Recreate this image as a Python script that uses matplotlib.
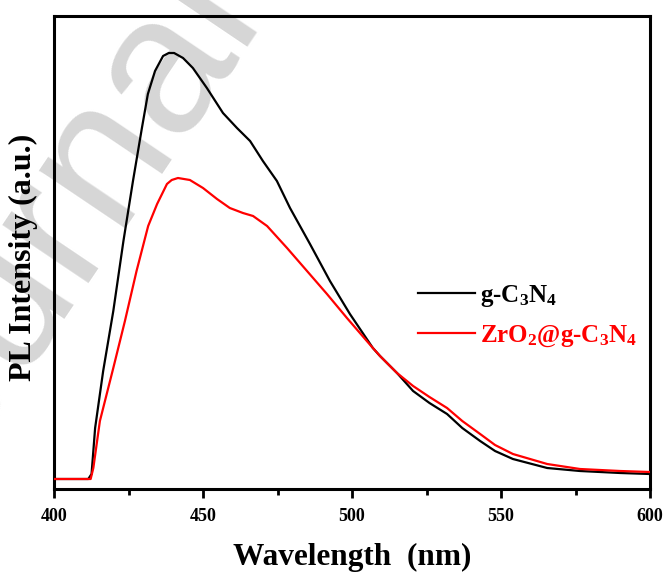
import matplotlib
matplotlib.use("Agg")
import matplotlib.pyplot as plt
from matplotlib.lines import Line2D

# PL spectra (intensity in arbitrary units)
wl_gcn = [400, 411.5, 412.6, 413.8, 416.5, 419.9, 423.3, 426.5, 429.5, 431.5,
          433.9, 436.6, 438.5, 440.3, 443.3, 446.6, 451.3, 456.7, 461.4, 465.8,
          470.1, 474.8, 479.2, 485.9, 492.6, 499.3, 507, 509.4, 515.1, 520.5,
          526, 531.9, 537, 543, 548, 554, 565.5, 576.5, 590, 600]
pl_gcn = [10, 10, 15, 61, 118, 178, 248, 308, 361, 395,
          418, 433, 436, 436, 431, 421, 401, 376, 361, 348,
          328, 308, 281, 245, 208, 175, 141, 133, 116, 98,
          86, 75, 61, 48, 38, 30, 21, 18, 16, 15]

wl_zr = [400, 412.3, 413.2, 415.4, 419.9, 423.8, 427.7, 431.6, 434.6, 437.9,
         439.5, 441.6, 445.6, 450, 454.7, 459, 463.4, 466.8, 471.5, 478.2,
         484.9, 491.6, 498.3, 507, 509.4, 515.1, 520.5, 526, 531.9, 537,
         543, 548, 554, 565.5, 576.5, 590, 600]
pl_zr = [10, 10, 21, 68, 121, 168, 218, 263, 285, 305,
         309, 311, 309, 301, 290, 281, 276, 273, 263, 241,
         218, 195, 171, 141, 133, 116, 103, 92, 81, 68,
         55, 44, 35, 25, 20, 18, 17]

xticks = [400, 450, 500, 550, 600]
minor_xticks = [425, 475, 525, 575]

plt.rcParams['font.family'] = ['Liberation Serif', 'DejaVu Serif']
plt.rcParams['font.weight'] = 'bold'
plt.rcParams['mathtext.fontset'] = 'custom'
plt.rcParams['mathtext.rm'] = 'Liberation Serif:bold'
plt.rcParams['mathtext.it'] = 'Liberation Serif:bold'
plt.rcParams['mathtext.bf'] = 'Liberation Serif:bold'

fig = plt.figure(figsize=(6.64, 5.75), dpi=100)
ax = fig.add_axes([54 / 664, 1 - 489 / 575, 596 / 664, 473 / 575])

# grey watermark behind the data
ax.text(265 / 664, 1 - 18 / 575, "Journal", transform=fig.transFigure, rotation=56,
        fontsize=142, color='#d6d6d6', family='Liberation Sans', weight='normal',
        ha='right', va='baseline', rotation_mode='anchor', zorder=0.5, clip_on=False)

ax.plot(wl_gcn, pl_gcn, color='black', lw=1.6, zorder=3)
ax.plot(wl_zr, pl_zr, color='#ff0000', lw=1.6, zorder=3)

ax.set_xlim(400, 600)
ax.set_ylim(0, 473)
ax.set_xticks(xticks)
ax.set_xticks(minor_xticks, minor=True)
ax.set_yticks([])
ax.tick_params(axis='x', which='major', direction='out', length=6.5, width=2,
               labelsize=13, pad=7)
ax.tick_params(axis='x', which='minor', direction='out', length=4.3, width=2)
for lab in ax.get_xticklabels():
    lab.set_fontweight('bold')
for sp in ax.spines.values():
    sp.set_linewidth(2.2)

ax.set_xlabel("Wavelength  (nm)", fontsize=22.5, fontweight='bold', labelpad=13)
ax.set_ylabel("PL Intensity (a.u.)", fontsize=23, fontweight='bold')
ax.yaxis.set_label_coords(-16 / 596, (489 - 257) / 473)

handles = [Line2D([], [], color='black', lw=1.6),
           Line2D([], [], color='#ff0000', lw=1.6)]
labels = ['g-C$_{3}$N$_{4}$', 'ZrO$_{2}$@g-C$_{3}$N$_{4}$']
leg = ax.legend(handles, labels, loc='upper left',
                bbox_to_anchor=(418 / 664, 1 - 283 / 575),
                bbox_transform=fig.transFigure, frameon=False,
                fontsize=18, handlelength=2.3, handletextpad=0.2,
                labelspacing=0.6, borderpad=0, borderaxespad=0)
leg.get_texts()[1].set_color('#ff0000')

fig.savefig("out.png", dpi=100)
